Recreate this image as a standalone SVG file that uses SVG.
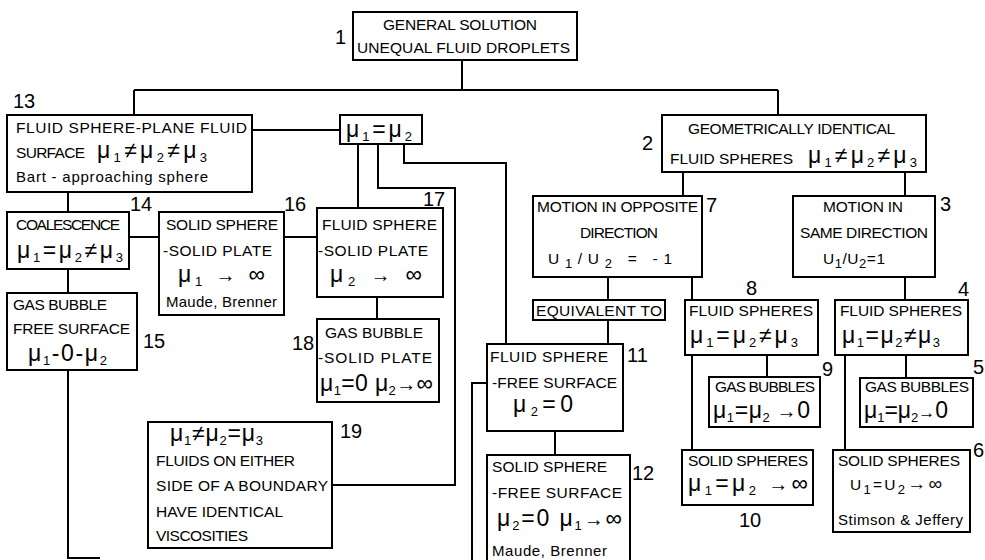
<svg xmlns="http://www.w3.org/2000/svg" width="985" height="560" viewBox="0 0 985 560">
<style>
.bg{fill:#fff}
.b{fill:#fff;stroke:#000;stroke-width:2}
.c{fill:none;stroke:#000;stroke-width:2}
text{font-family:"Liberation Sans",Arial,sans-serif;fill:#000}
.t{font-size:15.5px}
.l{font-size:15px}
.m{font-size:23px}
.s{font-size:13px}
.a{font-size:20px}
.n{font-size:20px}
</style>
<rect class="bg" x="0" y="0" width="985" height="560"/>
<g id="connectors">
<path class="c" d="M462,60 V90 M134,90 H778 M134,90 V115 M778,90 V115"/>
<path class="c" d="M252,130 H340"/>
<path class="c" d="M358,144 V208"/>
<path class="c" d="M378,144 V188 H455 V485 H332"/>
<path class="c" d="M404,144 V163 H506 V344"/>
<path class="c" d="M68,192 V212 M68,269 V293 M68,370 V558 H100"/>
<path class="c" d="M129,237 H159 M284,237 H317"/>
<path class="c" d="M377,297 V319"/>
<path class="c" d="M683,172 V196 M905,172 V196"/>
<path class="c" d="M608,277 V300 M608,320 V344 M692,277 V300"/>
<path class="c" d="M905,277 V300"/>
<path class="c" d="M767,355 V377 M692,355 V450"/>
<path class="c" d="M906,355 V378 M845,355 V450"/>
<path class="c" d="M555,431 V455"/>
<path class="c" d="M487,383 H472 V560"/>
</g>
<g id="n1">
<rect class="b" x="353" y="12" width="224" height="48"/>
<text class="t" x="383" y="30" textLength="154">GENERAL SOLUTION</text>
<text class="t" x="357" y="53" textLength="213">UNEQUAL FLUID DROPLETS</text>
<text class="n" x="335" y="44">1</text>
</g>
<g id="n13">
<rect class="b" x="7" y="115" width="245" height="77"/>
<text class="t" x="16" y="133" textLength="231">FLUID SPHERE-PLANE FLUID</text>
<text class="t" x="16" y="158" textLength="69">SURFACE</text>
<text class="m" x="97" y="158" textLength="110">μ<tspan class="s" dy="4">1</tspan><tspan dy="-4">≠μ</tspan><tspan class="s" dy="4">2</tspan><tspan dy="-4">≠μ</tspan><tspan class="s" dy="4">3</tspan></text>
<text class="l" x="16" y="182" textLength="192">Bart - approaching sphere</text>
<text class="n" x="13" y="108">13</text>
</g>
<g id="nmu">
<rect class="b" x="340" y="115" width="82" height="29"/>
<text class="m" x="346" y="137" textLength="66">μ<tspan class="s" dy="4">1</tspan><tspan dy="-4">=μ</tspan><tspan class="s" dy="4">2</tspan></text>
</g>
<g id="n2">
<rect class="b" x="662" y="115" width="264" height="57"/>
<text class="t" x="688" y="134" textLength="207">GEOMETRICALLY IDENTICAL</text>
<text class="t" x="670" y="164" textLength="123">FLUID SPHERES</text>
<text class="m" x="808" y="163" textLength="109">μ<tspan class="s" dy="4">1</tspan><tspan dy="-4">≠μ</tspan><tspan class="s" dy="4">2</tspan><tspan dy="-4">≠μ</tspan><tspan class="s" dy="4">3</tspan></text>
<text class="n" x="642" y="150">2</text>
</g>
<g id="n14">
<rect class="b" x="7" y="212" width="122" height="57"/>
<text class="t" x="16" y="230" textLength="104">COALESCENCE</text>
<text class="m" x="17" y="258" textLength="106">μ<tspan class="s" dy="4">1</tspan><tspan dy="-4">=μ</tspan><tspan class="s" dy="4">2</tspan><tspan dy="-4">≠μ</tspan><tspan class="s" dy="4">3</tspan></text>
<text class="n" x="130" y="211">14</text>
</g>
<g id="n16">
<rect class="b" x="159" y="212" width="125" height="103"/>
<text class="t" x="166" y="230" textLength="112">SOLID SPHERE</text>
<text class="t" x="163" y="256" textLength="109">-SOLID PLATE</text>
<text class="m" x="178" y="282" textLength="87">μ<tspan class="s" dy="4">1</tspan><tspan class="a" dy="-4"> → </tspan>∞</text>
<text class="l" x="166" y="307" textLength="111">Maude, Brenner</text>
<text class="n" x="284" y="211">16</text>
</g>
<g id="n17">
<rect class="b" x="317" y="208" width="126" height="89"/>
<text class="t" x="322" y="230" textLength="115">FLUID SPHERE</text>
<text class="t" x="318" y="256" textLength="110">-SOLID PLATE</text>
<text class="m" x="330" y="282" textLength="92">μ<tspan class="s" dy="4">2</tspan><tspan class="a" dy="-4"> → </tspan>∞</text>
<text class="n" x="423" y="206">17</text>
</g>
<g id="n18">
<rect class="b" x="317" y="319" width="122" height="83"/>
<text class="t" x="325" y="338" textLength="98">GAS BUBBLE</text>
<text class="t" x="318" y="363" textLength="114">-SOLID PLATE</text>
<text class="m" x="320" y="391" textLength="113">μ<tspan class="s" dy="4">1</tspan><tspan dy="-4">=0 μ</tspan><tspan class="s" dy="4">2</tspan><tspan class="a" dy="-4">→</tspan>∞</text>
<text class="n" x="292" y="350">18</text>
</g>
<g id="n15">
<rect class="b" x="7" y="293" width="130" height="77"/>
<text class="t" x="13" y="310" textLength="94">GAS BUBBLE</text>
<text class="t" x="13" y="334" textLength="117">FREE SURFACE</text>
<text class="m" x="28" y="361" textLength="79">μ<tspan class="s" dy="4">1</tspan><tspan dy="-4">-0-μ</tspan><tspan class="s" dy="4">2</tspan></text>
<text class="n" x="143" y="348">15</text>
</g>
<g id="n19">
<rect class="b" x="148" y="422" width="184" height="126"/>
<text class="m" x="170" y="441" textLength="93">μ<tspan class="s" dy="4">1</tspan><tspan dy="-4">≠μ</tspan><tspan class="s" dy="4">2</tspan><tspan dy="-4">=μ</tspan><tspan class="s" dy="4">3</tspan></text>
<text class="t" x="156" y="466" textLength="139">FLUIDS ON EITHER</text>
<text class="t" x="156" y="491" textLength="172">SIDE OF A BOUNDARY</text>
<text class="t" x="156" y="517" textLength="127">HAVE IDENTICAL</text>
<text class="t" x="156" y="541" textLength="92">VISCOSITIES</text>
<text class="n" x="340" y="438">19</text>
</g>
<g id="n7">
<rect class="b" x="533" y="196" width="169" height="81"/>
<text class="t" x="537" y="212" textLength="161">MOTION IN OPPOSITE</text>
<text class="t" x="580" y="238" textLength="78">DIRECTION</text>
<text class="t" x="548" y="264" textLength="124">U<tspan class="s" dy="4">1</tspan><tspan dy="-4">/U</tspan><tspan class="s" dy="4">2</tspan><tspan dy="-4"> = -1</tspan></text>
<text class="n" x="706" y="212">7</text>
</g>
<g id="n3">
<rect class="b" x="793" y="196" width="142" height="81"/>
<text class="t" x="823" y="212" textLength="80">MOTION IN</text>
<text class="t" x="800" y="238" textLength="128">SAME DIRECTION</text>
<text class="t" x="823" y="264" textLength="62">U<tspan class="s" dy="4">1</tspan><tspan dy="-4">/U</tspan><tspan class="s" dy="4">2</tspan><tspan dy="-4">=1</tspan></text>
<text class="n" x="940" y="211">3</text>
</g>
<g id="neq">
<rect class="b" x="533" y="300" width="132" height="20"/>
<text class="t" x="536" y="316" textLength="126">EQUIVALENT TO</text>
</g>
<g id="n8">
<rect class="b" x="685" y="300" width="133" height="55"/>
<text class="t" x="689" y="316" textLength="124">FLUID SPHERES</text>
<text class="m" x="690" y="343" textLength="108">μ<tspan class="s" dy="4">1</tspan><tspan dy="-4">=μ</tspan><tspan class="s" dy="4">2</tspan><tspan dy="-4">≠μ</tspan><tspan class="s" dy="4">3</tspan></text>
<text class="n" x="746" y="295">8</text>
</g>
<g id="n4">
<rect class="b" x="835" y="300" width="133" height="55"/>
<text class="t" x="840" y="316" textLength="122">FLUID SPHERES</text>
<text class="m" x="842" y="343" textLength="98">μ<tspan class="s" dy="4">1</tspan><tspan dy="-4">=μ</tspan><tspan class="s" dy="4">2</tspan><tspan dy="-4">≠μ</tspan><tspan class="s" dy="4">3</tspan></text>
<text class="n" x="958" y="296">4</text>
</g>
<g id="n9">
<rect class="b" x="709" y="377" width="111" height="50"/>
<text class="t" x="715" y="392" textLength="100">GAS BUBBLES</text>
<text class="m" x="713" y="418" textLength="97">μ<tspan class="s" dy="4">1</tspan><tspan dy="-4">=μ</tspan><tspan class="s" dy="4">2</tspan><tspan class="a" dy="-4"> →</tspan>0</text>
<text class="n" x="822" y="376">9</text>
</g>
<g id="n5">
<rect class="b" x="860" y="378" width="113" height="49"/>
<text class="t" x="865" y="392" textLength="104">GAS BUBBLES</text>
<text class="m" x="864" y="418" textLength="84">μ<tspan class="s" dy="4">1</tspan><tspan dy="-4">=μ</tspan><tspan class="s" dy="4">2</tspan><tspan class="a" dy="-4" style="font-size:17px">→</tspan>0</text>
<text class="n" x="973" y="374">5</text>
</g>
<g id="n10">
<rect class="b" x="682" y="450" width="131" height="55"/>
<text class="t" x="688" y="466" textLength="120">SOLID SPHERES</text>
<text class="m" x="688" y="491" textLength="120">μ<tspan class="s" dy="4">1</tspan><tspan dy="-4">=μ</tspan><tspan class="s" dy="4">2</tspan><tspan class="a" dy="-4">   →</tspan>∞</text>
<text class="n" x="739" y="527">10</text>
</g>
<g id="n6">
<rect class="b" x="833" y="450" width="137" height="82"/>
<text class="t" x="838" y="466" textLength="122">SOLID SPHERES</text>
<text class="t" x="850" y="490" textLength="92">U<tspan class="s" dy="4">1</tspan><tspan dy="-4">=U</tspan><tspan class="s" dy="4">2</tspan><tspan dy="-4" style="font-size:19px">→∞</tspan></text>
<text class="l" x="838" y="525" textLength="125">Stimson &amp; Jeffery</text>
<text class="n" x="973" y="457">6</text>
</g>
<g id="n11">
<rect class="b" x="487" y="344" width="136" height="87"/>
<text class="t" x="490" y="362" textLength="118">FLUID SPHERE</text>
<text class="t" x="492" y="388" textLength="125">-FREE SURFACE</text>
<text class="m" x="513" y="412" textLength="60">μ<tspan class="s" dy="4">2</tspan><tspan dy="-4">=0</tspan></text>
<text class="n" x="627" y="362">11</text>
</g>
<g id="n12">
<rect class="b" x="487" y="455" width="143" height="115"/>
<text class="t" x="492" y="472" textLength="115">SOLID SPHERE</text>
<text class="t" x="492" y="498" textLength="130">-FREE SURFACE</text>
<text class="m" x="497" y="526" textLength="125">μ<tspan class="s" dy="4">2</tspan><tspan dy="-4">=0 μ</tspan><tspan class="s" dy="4">1</tspan><tspan class="a" dy="-4">→</tspan>∞</text>
<text class="l" x="492" y="556" textLength="115">Maude, Brenner</text>
<text class="n" x="632" y="480">12</text>
</g>
</svg>
